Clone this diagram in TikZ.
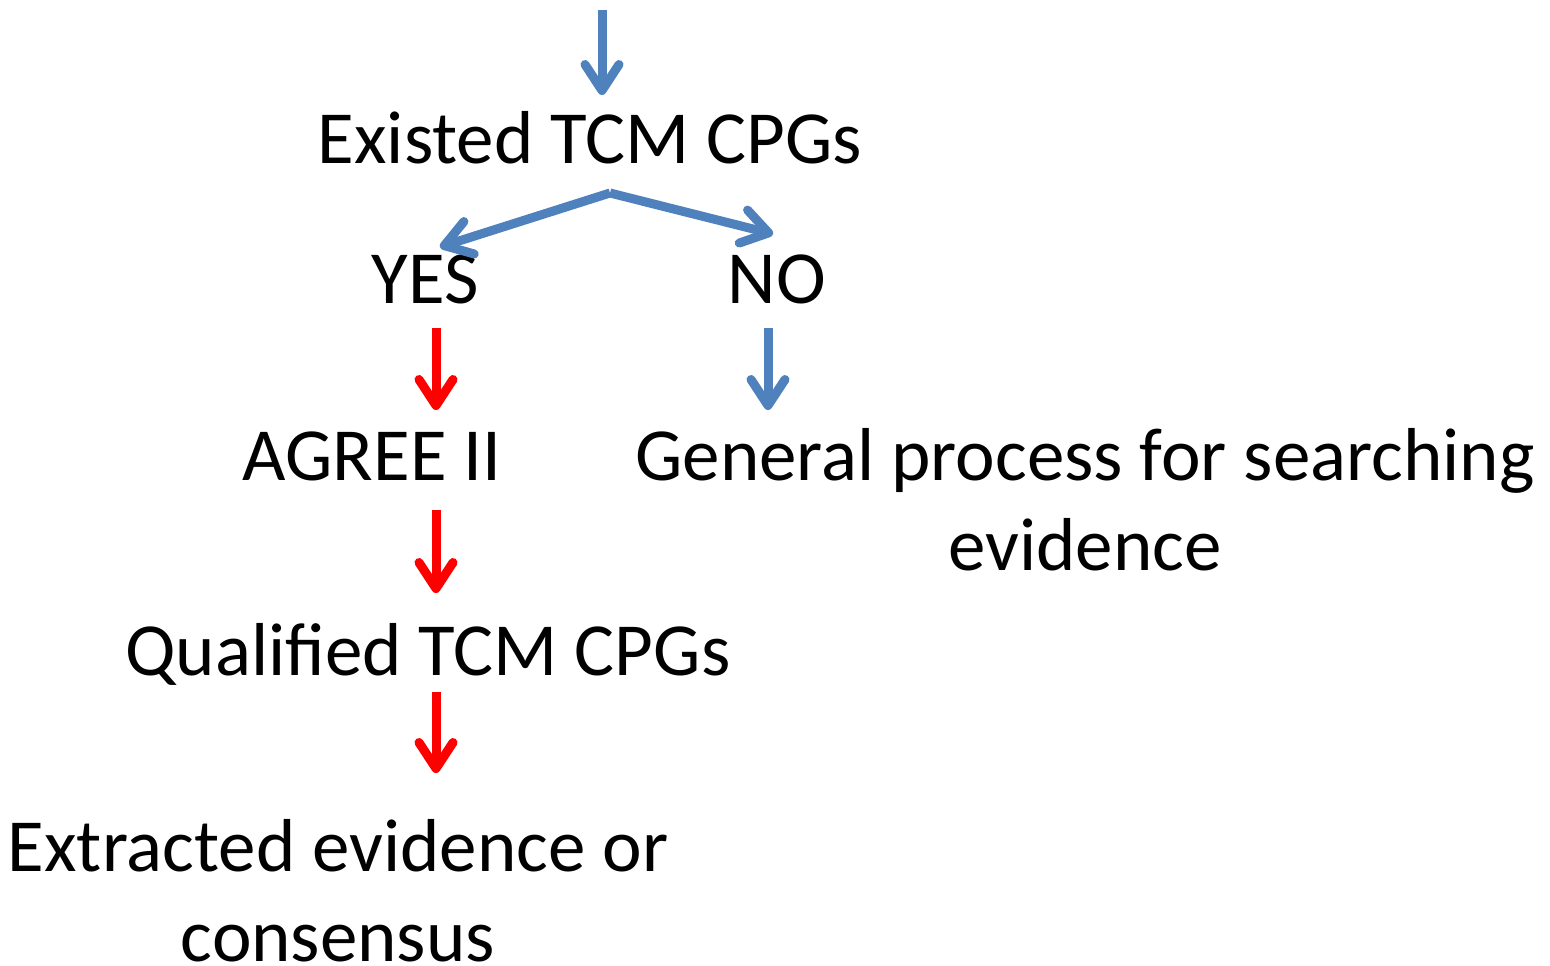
\documentclass[tikz,border=0pt]{standalone}
\usepackage{fontspec}
\setmainfont{Carlito}
\usetikzlibrary{arrows.meta}
\definecolor{flowblue}{HTML}{4F81BD}
\definecolor{flowred}{HTML}{FF0000}
\begin{document}
\begin{tikzpicture}[x=1pt,y=-1pt,
  lbl/.style={anchor=base,inner sep=0pt,font=\fontsize{75}{90}\selectfont,align=center},
  arr/.style={line width=9pt,-{Straight Barb[length=26pt,width=34pt,round]}},
  bluearr/.style={arr,draw=flowblue},
  redarr/.style={arr,draw=flowred}]
\useasboundingbox (0,0) rectangle (1550,966);
\node[lbl] (exist) at (590,163) {Existed TCM CPGs};
\node[lbl] (yes) at (425,303) {YES};
\node[lbl] (no) at (777,303) {NO};
\node[lbl] (agree) at (372,480) {AGREE II};
\node[lbl] (general) at (1085,570) {General process for searching\\evidence};
\node[lbl] (qual) at (428,675) {Qualified TCM CPGs};
\node[lbl] (extr) at (338,961) {Extracted evidence or\\consensus};
% arrow endpoints
\coordinate (top0) at (602,10);
\coordinate (top1) at (602,95);
\coordinate (fork) at (610,193);
\coordinate (yesin) at (440,247);
\coordinate (noin) at (773,234);
\coordinate (yesout) at (436,328);
\coordinate (agreein) at (436,410);
\coordinate (noout) at (768,328);
\coordinate (genin) at (768,410);
\coordinate (agreeout) at (436,510);
\coordinate (qualin) at (436,593);
\coordinate (qualout) at (436,692);
\coordinate (extrin) at (436,773);
\draw[bluearr] (top0) -- (top1);
\draw[bluearr] (fork) -- (yesin);
\draw[bluearr] (fork) -- (noin);
\draw[redarr] (yesout) -- (agreein);
\draw[bluearr] (noout) -- (genin);
\draw[redarr] (agreeout) -- (qualin);
\draw[redarr] (qualout) -- (extrin);
\end{tikzpicture}
\end{document}
